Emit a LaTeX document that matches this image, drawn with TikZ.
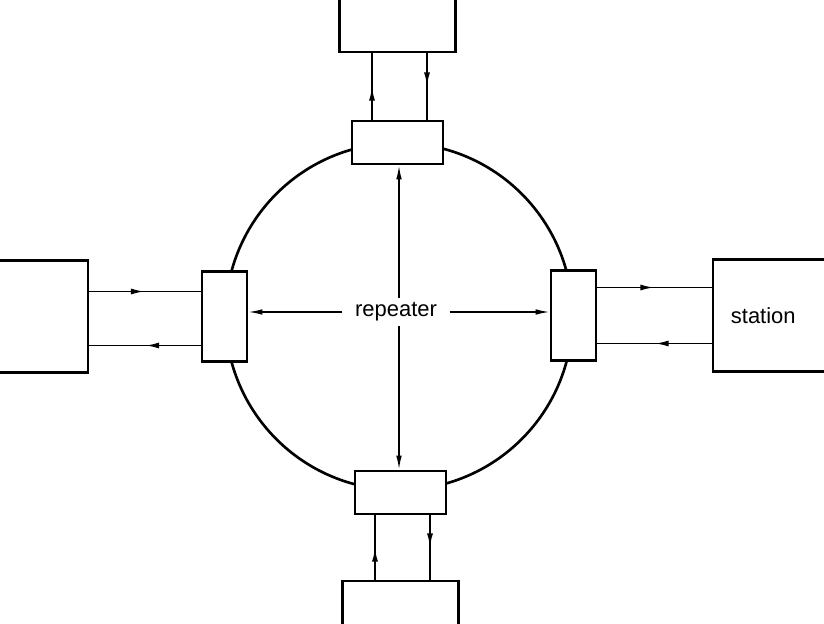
\documentclass[tikz,border=0pt]{standalone}
\usepackage{fontspec}
\setmainfont{Liberation Sans}
\usetikzlibrary{arrows.meta, decorations.markings}
\tikzstyle{repeater} = [rectangle, draw=black, line width=1.5pt, fill=white, inner sep=0pt]
\tikzstyle{hbox} = [repeater, minimum width=1.82cm, minimum height=0.86cm]
\tikzstyle{vbox} = [repeater, minimum width=0.9cm, minimum height=1.8cm]
\tikzstyle{station} = [rectangle, draw=black, line width=1.5pt, inner sep=0pt]
\tikzstyle{label} = [font=\fontsize{12.5}{14}\selectfont]
\tikzstyle{link} = [line width=1.1pt, postaction={decorate}, decoration={markings, mark=at position 0.5 with {\arrow{Latex[length=8pt,width=3.4pt]}}}]
\tikzstyle{pointer} = [line width=0.9pt, -{Latex[length=8pt,width=3.2pt]}]

\begin{document}
\begin{tikzpicture}[x=0.02cm, y=-0.02cm]
\useasboundingbox (0,0) rectangle (824,624);
\clip (0,0) rectangle (824,624);

\coordinate (ring) at (399,316.5);
\draw [line width=1.5pt] (ring) circle [radius=3.47cm];

\node (rt) [hbox] at (397.5,142.5) {};
\node (rb) [hbox] at (400.5,492.5) {};
\node (rl) [vbox] at (224.5,316.5) {};
\node (rr) [vbox] at (573.5,315.5) {};

\node (st) [station, minimum width=2.32cm, minimum height=2.24cm] at (397.5,-4) {};
\node (sb) [station, minimum width=2.32cm, minimum height=2.38cm] at (400.5,640.5) {};
\node (sl) [station, minimum width=2.96cm, minimum height=2.24cm] at (14,316.5) {};
\node (sr) [station, minimum width=3.34cm, minimum height=2.24cm] at (796.5,315.5) {};
\node (stationtext) [label, anchor=west] at ([xshift=0.26cm]sr.west) {station};

\node (lab) [label, inner xsep=7pt, inner ysep=2.5pt] at (396,312) {repeater};

\draw [link] ([xshift=-0.51cm]rt.north) -- ([xshift=-0.51cm]st.south);
\draw [link] ([xshift=0.59cm]st.south) -- ([xshift=0.59cm]rt.north);
\draw [link] ([xshift=-0.51cm]sb.north) -- ([xshift=-0.51cm]rb.south);
\draw [link] ([xshift=0.59cm]rb.south) -- ([xshift=0.59cm]sb.north);
\draw [link] ([yshift=0.5cm]sl.east) -- ([yshift=0.5cm]rl.west);
\draw [link] ([yshift=-0.58cm]rl.west) -- ([yshift=-0.58cm]sl.east);
\draw [link] ([yshift=0.56cm]rr.east) -- ([yshift=0.56cm]sr.west);
\draw [link] ([yshift=-0.56cm]sr.west) -- ([yshift=-0.56cm]rr.east);

\draw [pointer] (lab.west) -- (lab.west -| rl.east);
\draw [pointer] (lab.east) -- (lab.east -| rr.west);
\draw [pointer] ([xshift=0.06cm]lab.north) -- ([xshift=0.06cm]lab.north |- rt.south);
\draw [pointer] ([xshift=0.06cm]lab.south) -- ([xshift=0.06cm]lab.south |- rb.north);

\end{tikzpicture}
\end{document}
